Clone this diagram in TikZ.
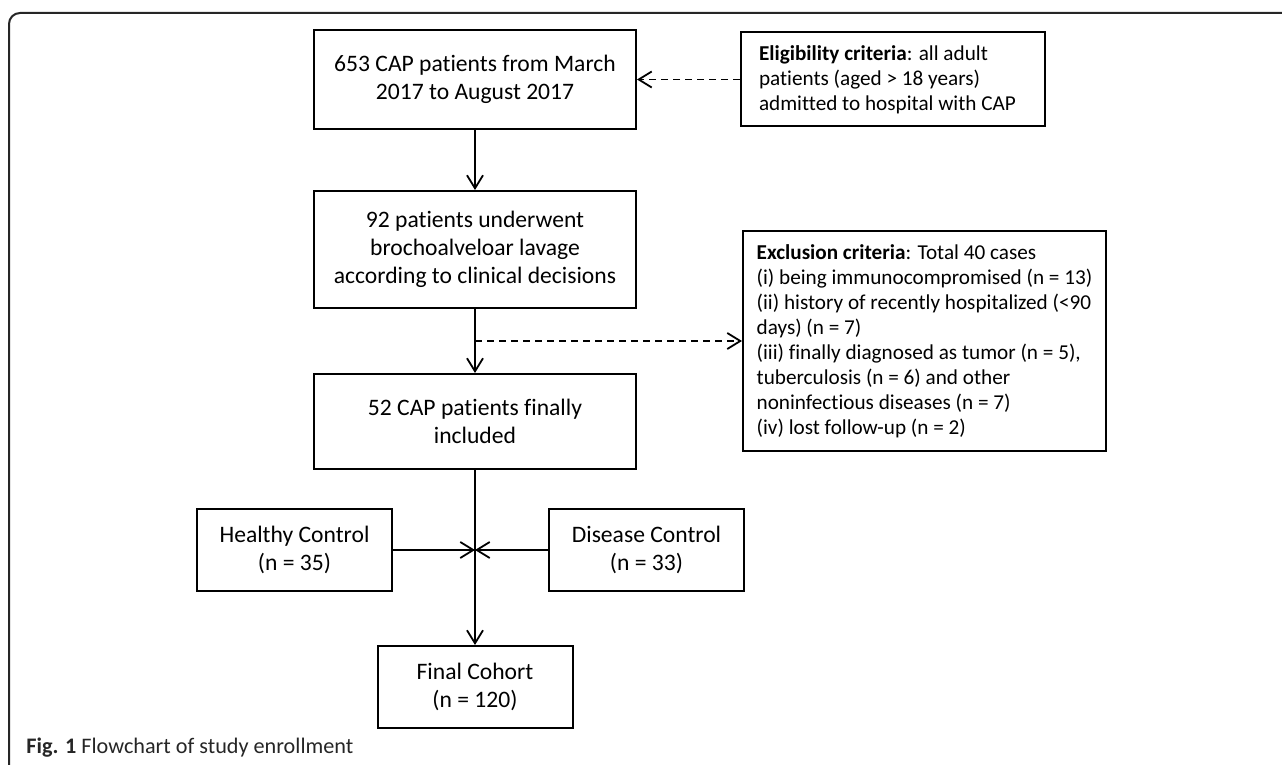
\documentclass[tikz,border=0pt]{standalone}
\usepackage{fontspec}
\setmainfont{Carlito}[Ligatures=NoCommon]
\usepackage{xcolor}
\usepackage{tikz}
\usetikzlibrary{arrows.meta, positioning, calc}
\newcommand{\mainsize}{\fontsize{11.8}{14}\selectfont}
\newcommand{\sidesize}{\fontsize{10.6}{12.5}\selectfont}
\newcommand{\capsize}{\fontsize{11.1}{13}\selectfont}
\tikzset{
    mainbox/.style={rectangle, draw, line width=1pt, minimum width=161pt, align=center, font=\mainsize},
    smallbox/.style={rectangle, draw, line width=1pt, minimum width=97.5pt, minimum height=41pt, align=center, font=\mainsize},
    sidebox/.style={rectangle, draw, line width=1pt, align=flush left, font=\sidesize},
    frameline/.style={line width=1pt, draw=black!85, rounded corners=5.5pt},
    arrow/.style={-{Straight Barb[length=6.5pt, width=8pt]}, line width=0.9pt},
    dasharrow/.style={arrow, dash pattern=on 3.5pt off 2.5pt},
}

\begin{document}
\begin{tikzpicture}[x=0.5pt, y=-0.5pt]
    \useasboundingbox (0,0) rectangle (1282,765);
    \draw[frameline] (1295,13) -- (9,13) -- (9,780);

    \node[mainbox, minimum height=49.5pt] (cap) at (475,79.5) {653 CAP patients from March\\2017 to August 2017};

    \node[sidebox, right=51.5pt of cap, minimum height=47pt, text width=134pt, inner xsep=9pt] (elig) {\textbf{Eligibility criteria}: all adult\\patients (aged > 18 years)\\admitted to hospital with CAP};

    \node[mainbox, below=30pt of cap, minimum height=58.5pt] (bal) {92 patients underwent\\brochoalveloar lavage\\according to clinical decisions};

    \node[mainbox, below=32pt of bal, minimum height=47.5pt] (incl) {52 CAP patients finally\\included};

    \coordinate (split) at ($(bal.south)!0.5!(incl.north)$);

    \node[sidebox, anchor=west, minimum width=181.5pt, minimum height=110pt] (excl) at ([xshift=1pt]split -| elig.west) {\textbf{Exclusion criteria}: Total 40 cases\\(i) being immunocompromised (n = 13)\\(ii) history of recently hospitalized (<90\\days) (n = 7)\\(iii) finally diagnosed as tumor (n = 5),\\tuberculosis (n = 6) and other\\noninfectious diseases (n = 7)\\(iv) lost follow-up (n = 2)};

    \coordinate[below=40pt of incl] (join);

    \node[smallbox, left=41pt of join] (healthy) {Healthy Control\\(n = 35)};

    \node[smallbox, right=36.5pt of join] (disease) {Disease Control\\(n = 33)};

    \node[smallbox, below=47.5pt of join] (cohort) {Final Cohort\\(n = 120)};

    \node[anchor=west, inner sep=0pt, font=\capsize, text=black!85] (caption) at (26,748) {\textbf{Fig. 1} Flowchart of study enrollment};

    \draw[dasharrow] (elig.west) -- (cap.east);
    \draw[arrow] (cap) -- (bal);
    \draw[arrow] (bal) -- (incl);
    \draw[dasharrow] (split) -- (excl.west);
    \draw[arrow] (incl) -- (cohort);
    \draw[arrow] (healthy.east) -- (join);
    \draw[arrow] (disease.west) -- (join);
\end{tikzpicture}
\end{document}
